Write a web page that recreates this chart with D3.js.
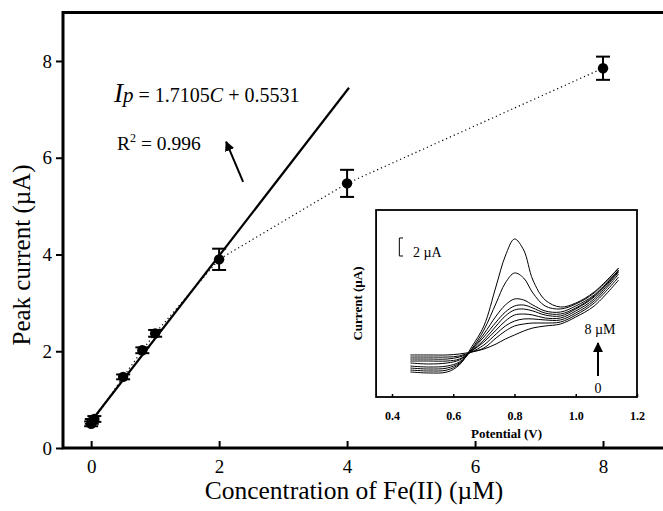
<!DOCTYPE html>
<html>
<head>
<meta charset="utf-8">
<script src="https://cdn.jsdelivr.net/npm/d3@7/dist/d3.min.js"></script>
<style>
  html, body { margin: 0; padding: 0; background: #fff; }
  svg { display: block; font-family: "Liberation Serif", "Times New Roman", serif; }
</style>
</head>
<body>
<svg id="chart" width="663" height="511"></svg>
<script>
// Calibration data: Fe(II) concentration (µM) vs. peak current (µA)
const concentrations = [0, 0.01, 0.05, 0.5, 0.8, 1, 2, 4, 8];
const peakCurrents   = [0.50, 0.55, 0.60, 1.47, 2.02, 2.37, 3.90, 5.47, 7.85];
const currentErrors  = [0.05, 0.05, 0.06, 0.05, 0.06, 0.07, 0.22, 0.28, 0.24];

// Linear fit over the low-concentration range
const fitSlope = 1.7105;
const fitIntercept = 0.5531;
const fitRange = [0, 4.03];
const rSquared = 0.996;

const xTicks = [0, 2, 4, 6, 8];
const yTicks = [0, 2, 4, 6, 8];

// Inset: voltammograms, potential (V) vs. current (µA), lowest to highest concentration
const potentials = [0.46, 0.52, 0.58, 0.62, 0.66, 0.70, 0.74, 0.77, 0.80, 0.83, 0.86, 0.90, 0.95, 1.00, 1.06, 1.14];
const voltammogramLabels = ["0", "0.01", "0.05", "0.5", "0.8", "1", "2", "4", "8"];
const voltammograms = [
  [4.67, 4.67, 4.67, 4.78, 5.00, 5.33, 5.89, 6.44, 6.89, 7.33, 7.67, 7.89, 8.11, 8.89, 10.11, 13.00],
  [4.44, 4.44, 4.44, 4.56, 5.00, 5.44, 6.56, 7.33, 7.89, 8.11, 8.22, 8.22, 8.33, 9.11, 10.44, 13.33],
  [4.22, 4.22, 4.22, 4.44, 5.00, 5.78, 7.00, 7.89, 8.44, 8.67, 8.67, 8.56, 8.56, 9.33, 10.67, 13.67],
  [4.00, 4.00, 4.00, 4.22, 5.11, 6.11, 7.44, 8.44, 9.11, 9.22, 9.11, 8.78, 8.78, 9.56, 10.89, 13.89],
  [3.78, 3.67, 3.78, 4.11, 5.11, 6.33, 7.89, 9.00, 9.67, 9.78, 9.56, 9.11, 9.00, 9.78, 11.11, 14.00],
  [3.44, 3.33, 3.44, 3.89, 5.22, 6.67, 8.33, 9.44, 10.11, 10.22, 9.89, 9.33, 9.22, 9.89, 11.22, 14.11],
  [3.22, 3.11, 3.22, 3.78, 5.22, 7.00, 9.00, 10.22, 10.89, 10.78, 10.22, 9.56, 9.44, 10.11, 11.33, 14.11],
  [3.00, 2.89, 3.00, 3.67, 5.33, 7.44, 10.44, 12.67, 13.78, 13.22, 11.56, 10.11, 9.78, 10.33, 11.56, 14.33],
  [2.78, 2.67, 2.78, 3.56, 5.56, 7.89, 12.33, 15.67, 17.56, 16.33, 13.00, 10.78, 10.00, 10.44, 11.67, 14.33]
];
const insetTicks = [0.4, 0.6, 0.8, 1.0, 1.2];
const scaleBarCurrent = 2; // µA

const svg = d3.select("#chart");

// ---------- main plot ----------
const x = d3.scaleLinear().domain([-0.44, 9]).range([63, 667]);
const y = d3.scaleLinear().domain([0, 9]).range([448, 12.6]);

const points = concentrations.map((c, i) => ({ c, v: peakCurrents[i], e: currentErrors[i] }));

// dotted connector through the measured points
svg.append("path")
  .datum(points)
  .attr("fill", "none")
  .attr("stroke", "#000")
  .attr("stroke-width", 1.2)
  .attr("stroke-dasharray", "1.2,3")
  .attr("d", d3.line().x(d => x(d.c)).y(d => y(d.v)));

// fitted line
svg.append("line")
  .attr("x1", x(fitRange[0])).attr("y1", y(fitSlope * fitRange[0] + fitIntercept))
  .attr("x2", x(fitRange[1])).attr("y2", y(fitSlope * fitRange[1] + fitIntercept))
  .attr("stroke", "#000").attr("stroke-width", 2.2);

// error bars
const eb = svg.append("g").attr("stroke", "#000").attr("stroke-width", 2);
points.forEach(p => {
  const cx = x(p.c);
  eb.append("line").attr("x1", cx).attr("x2", cx).attr("y1", y(p.v - p.e)).attr("y2", y(p.v + p.e));
  eb.append("line").attr("x1", cx - 7).attr("x2", cx + 7).attr("y1", y(p.v - p.e)).attr("y2", y(p.v - p.e));
  eb.append("line").attr("x1", cx - 7).attr("x2", cx + 7).attr("y1", y(p.v + p.e)).attr("y2", y(p.v + p.e));
});

// markers
svg.append("g").selectAll("circle").data(points).join("circle")
  .attr("cx", d => x(d.c)).attr("cy", d => y(d.v)).attr("r", 5.2).attr("fill", "#000");

// axes
const yAxis = svg.append("g")
  .attr("transform", `translate(${x(-0.44)},0)`)
  .call(d3.axisLeft(y).tickValues(yTicks).tickSize(7).tickPadding(4).tickFormat(d3.format("d")));
const xAxis = svg.append("g")
  .attr("transform", `translate(0,${y(0)})`)
  .call(d3.axisBottom(x).tickValues(xTicks).tickSize(-7).tickPadding(12).tickFormat(d3.format("d")));
[yAxis, xAxis].forEach(g => {
  g.attr("font-family", null);
  g.select(".domain").remove();
  g.selectAll(".tick line").attr("stroke", "#000").attr("stroke-width", 2);
  g.selectAll(".tick text").attr("fill", "#000").style("font-size", "19px")
    .style("font-family", "'Liberation Serif', serif");
});

// frame (left, top, bottom)
svg.append("path")
  .attr("fill", "none").attr("stroke", "#000").attr("stroke-width", 3)
  .attr("d", `M${x(9)},${y(9)} H${x(-0.44)} V${y(0)} H${x(9)}`);

// axis titles
svg.append("text")
  .attr("x", 354).attr("y", 499).attr("text-anchor", "middle")
  .style("font-size", "25.5px")
  .text("Concentration of Fe(II) (µM)");
svg.append("text")
  .attr("transform", "translate(30,255) rotate(-90)").attr("text-anchor", "middle")
  .style("font-size", "25px")
  .text("Peak current (µA)");

// regression equation
const eq = svg.append("text").attr("x", 114).attr("y", 102).style("font-size", "20px");
eq.append("tspan").style("font-style", "italic").style("font-size", "27px").text("I");
eq.append("tspan").style("font-style", "italic").style("font-size", "21px").text("p");
eq.append("tspan").text(` = ${fitSlope}`);
eq.append("tspan").style("font-style", "italic").text("C");
eq.append("tspan").text(` + ${fitIntercept}`);

const r2 = svg.append("text").attr("x", 117).attr("y", 150).style("font-size", "19.5px");
r2.append("tspan").text("R");
r2.append("tspan").attr("dy", -8).style("font-size", "12px").text("2");
r2.append("tspan").attr("dy", 8).text(` = ${rSquared}`);

// arrow pointing to the equation
const defs = svg.append("defs");
defs.append("marker")
  .attr("id", "head").attr("viewBox", "0 0 10 10").attr("refX", 9).attr("refY", 5)
  .attr("markerWidth", 5).attr("markerHeight", 5).attr("markerUnits", "strokeWidth")
  .attr("orient", "auto")
  .append("path").attr("d", "M0,0 L10,5 L0,10 Z").attr("fill", "#000");
svg.append("line")
  .attr("x1", x(2.375)).attr("y1", y(5.5)).attr("x2", x(2.11)).attr("y2", y(6.33))
  .attr("stroke", "#000").attr("stroke-width", 2).attr("marker-end", "url(#head)");

// ---------- inset ----------
const xi = d3.scaleLinear().domain([0.4, 1.2]).range([392, 637]);
const yi = d3.scaleLinear().domain([0, 20.78]).range([397, 210]);
const insetLeft = xi(0.348);

svg.append("rect")
  .attr("x", insetLeft).attr("y", yi(20.78))
  .attr("width", xi(1.2) - insetLeft).attr("height", yi(0) - yi(20.78))
  .attr("fill", "#fff").attr("stroke", "#000").attr("stroke-width", 1.8);

const lineI = d3.line().curve(d3.curveCatmullRom.alpha(0.5))
  .x((d, i) => xi(potentials[i])).y(d => yi(d));
svg.append("g").selectAll("path").data(voltammograms).join("path")
  .attr("class", (d, i) => "vg-" + voltammogramLabels[i].replace(".", "_"))
  .attr("fill", "none").attr("stroke", "#000").attr("stroke-width", 1)
  .attr("d", lineI);

const xiAxis = svg.append("g")
  .attr("transform", `translate(0,${yi(0)})`)
  .call(d3.axisBottom(xi).tickValues(insetTicks).tickSize(-3).tickPadding(14).tickFormat(d3.format(".1f")));
xiAxis.attr("font-family", null);
xiAxis.select(".domain").remove();
xiAxis.selectAll(".tick line").attr("stroke", "#000").attr("stroke-width", 1.5);
xiAxis.selectAll(".tick text").attr("fill", "#000")
  .style("font-size", "12px").style("font-weight", "bold")
  .style("font-family", "'Liberation Serif', serif");

svg.append("text")
  .attr("x", (insetLeft + xi(1.2)) / 2).attr("y", 438).attr("text-anchor", "middle")
  .style("font-size", "13px").style("font-weight", "bold")
  .text("Potential (V)");
svg.append("text")
  .attr("transform", `translate(362,${(yi(0) + yi(20.78)) / 2}) rotate(-90)`).attr("text-anchor", "middle")
  .style("font-size", "13px").style("font-weight", "bold")
  .text("Current (µA)");

// current scale bar
const sbTop = yi(17.67), sbBottom = yi(17.67 - scaleBarCurrent);
svg.append("path")
  .attr("fill", "none").attr("stroke", "#000").attr("stroke-width", 1)
  .attr("d", `M${xi(0.436)},${sbTop} H${xi(0.437) - 4} V${sbBottom} H${xi(0.436)}`);
svg.append("text").attr("x", 413).attr("y", 257).style("font-size", "14px").text(`${scaleBarCurrent} µA`);

// concentration direction arrow
svg.append("line")
  .attr("x1", 598).attr("y1", 376).attr("x2", 598).attr("y2", 343)
  .attr("stroke", "#000").attr("stroke-width", 2).attr("marker-end", "url(#head)");
svg.append("text").attr("x", 600).attr("y", 334).attr("text-anchor", "middle")
  .style("font-size", "14px").text(`${voltammogramLabels[voltammogramLabels.length - 1]} µM`);
svg.append("text").attr("x", 598).attr("y", 393).attr("text-anchor", "middle")
  .style("font-size", "14px").text(voltammogramLabels[0]);
</script>
</body>
</html>
